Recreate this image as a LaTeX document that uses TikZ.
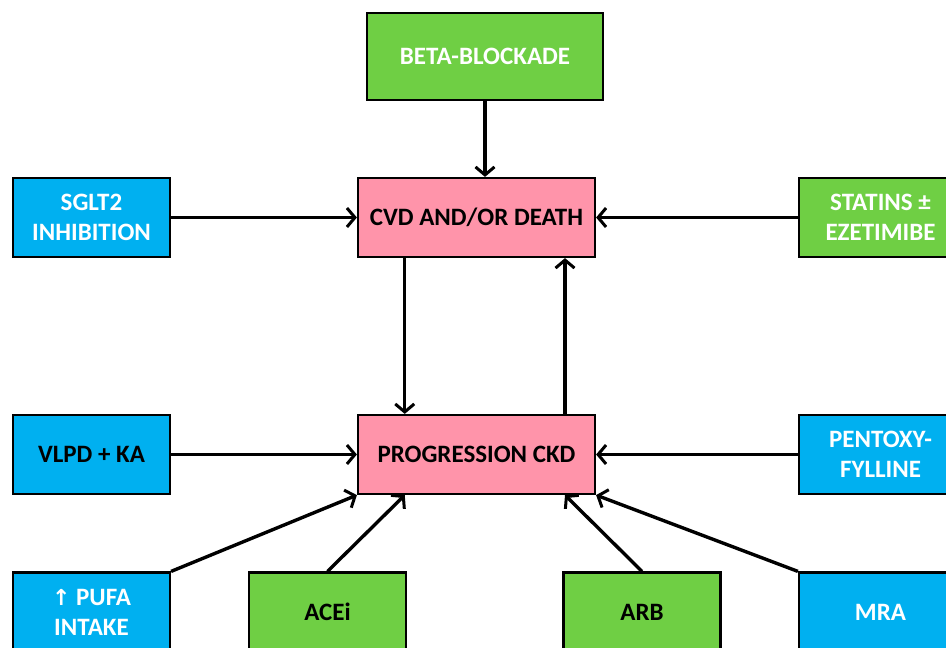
\documentclass[tikz,border=0pt]{standalone}
\usepackage{fontspec}
\setmainfont{Carlito}
\newfontfamily\symfont{DejaVu Sans}
\usetikzlibrary{calc,arrows.meta,positioning}

\definecolor{boxblue}{HTML}{00B0F0}
\definecolor{boxgreen}{HTML}{6FCF44}
\definecolor{boxpink}{HTML}{FF94AA}

\begin{document}
\begin{tikzpicture}[x=1pt,y=-1pt,
    box/.style={draw=black,line width=2.2pt,minimum width=157pt,minimum height=79pt,
        align=center,font=\fontsize{25}{30}\selectfont\bfseries,inner sep=2pt},
    bluebox/.style={box,fill=boxblue,text=white},
    greenbox/.style={box,fill=boxgreen,text=white},
    pinkbox/.style={box,fill=boxpink,text=black,minimum width=237pt},
    arr/.style={-{Straight Barb[length=8pt,width=19pt,line width=3pt]},line width=3.4pt}]
        \clip (0,0) rectangle (946,648);
        \fill[white] (0,0) rectangle (946,648);

        % middle column
        \node[greenbox,minimum width=236pt,minimum height=87pt] (beta) at (485,56.5) {BETA-BLOCKADE};
        \node[pinkbox] (cvd) at (476.5,217.5) {CVD AND/OR DEATH};
        \node[pinkbox] (ckd) at (476.5,454.5) {PROGRESSION CKD};

        % side boxes
        \node[bluebox] (sglt) at (91.5,217.5) {SGLT2\\INHIBITION};
        \node[greenbox,minimum width=163pt] (statins) at (880.5,217.5) {STATINS ±\\EZETIMIBE};
        \node[bluebox,text=black] (vlpd) at (91.5,454.5) {VLPD + KA};
        \node[bluebox,minimum width=163pt] (pentox) at (880.5,454.5) {PENTOXY-\\FYLLINE};

        % bottom row
        \node[bluebox] (pufa) at (91.5,612) {{\symfont\fontsize{22}{30}\selectfont ↑}\ PUFA\\INTAKE};
        \node[greenbox,text=black] (acei) at (327.5,612) {ACEi};
        \node[greenbox,text=black] (arb) at (642,612) {ARB};
        \node[bluebox,minimum width=163pt] (mra) at (880.5,612) {MRA};

        \coordinate (cvdL) at ($(cvd.south west)!0.2!(cvd.south east)$);
        \coordinate (cvdR) at ($(cvd.south west)!0.87!(cvd.south east)$);
        \coordinate (ckdL) at ($(ckd.south west)!0.2!(ckd.south east)$);
        \coordinate (ckdR) at ($(ckd.south west)!0.87!(ckd.south east)$);

        \draw[arr] (beta.south) -- (beta.south |- cvd.north);
        \draw[arr] (sglt) -- (cvd);
        \draw[arr] (statins) -- (cvd);
        \draw[arr] (cvdL) -- (cvdL |- ckd.north);
        \draw[arr] (ckdR |- ckd.north) -- (cvdR);
        \draw[arr] (vlpd) -- (ckd);
        \draw[arr] (pentox) -- (ckd);

        \foreach \s/\t in {pufa.north east/ckd.south west, acei.north/ckdL,
                           arb.north/ckdR, mra.north west/ckd.south east}
        {
            \draw[arr] (\s) -- (\t);
        };
\end{tikzpicture}
\end{document}
